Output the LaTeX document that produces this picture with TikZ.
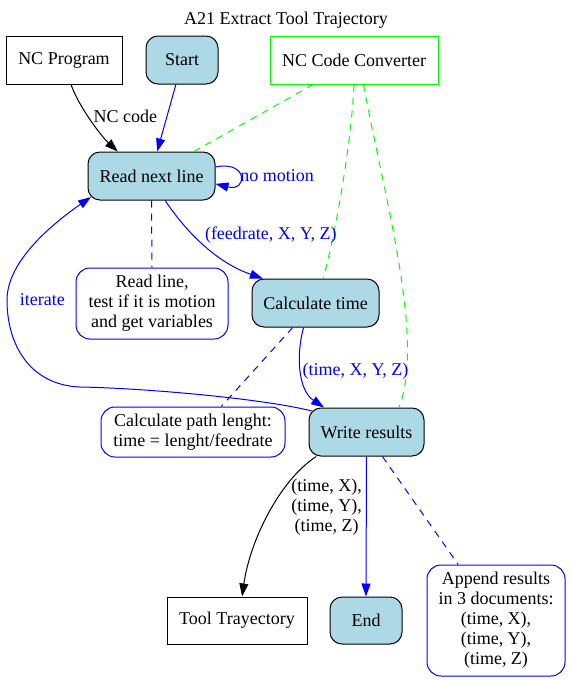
\documentclass[tikz,border=0pt]{standalone}
\usepackage{fontspec}
\setmainfont{Liberation Serif}
\usetikzlibrary{arrows.meta,calc}
\definecolor{lightblue}{HTML}{ADD8E6}
\tikzset{>={Triangle[length=13pt,width=9pt]}}
\tikzset{
  proc/.style={draw,fill=lightblue,rounded corners=12pt,minimum height=48pt,inner sep=0pt},
  datanode/.style={draw,minimum height=48pt,inner sep=0pt},
  note/.style={draw=blue,fill=white,rounded corners=14pt,align=center,inner sep=0pt},
  dashln/.style={dash pattern=on 7pt off 6pt}
}

\begin{document}
\begin{tikzpicture}[x=1pt,y=1pt,line width=1pt,font=\fontsize{18}{20}\selectfont]
\useasboundingbox (0,0) rectangle (570,-681);
\node (title) at (286,-20) {A21 Extract Tool Trajectory};
\node[datanode,minimum width=116pt] (prog) at (64,-60) {NC Program};
\node[proc,minimum width=72pt] (start) at (182,-60) {Start};
\node[datanode,draw=green,minimum width=168pt] (conv) at (354,-60) {NC Code Converter};
\node[proc,minimum width=127pt] (readln) at (151.5,-176) {Read next line};
\node[note,minimum width=152pt,minimum height=71pt] (readnote) at (152,-303.5)
  {Read line,\\test if it is motion\\and get variables};
\node[proc,minimum width=127pt] (calctime) at (315.5,-303) {Calculate time};
\node[note,minimum width=184pt,minimum height=50pt] (pathnote) at (193,-432)
  {Calculate path lenght:\\time = lenght/feedrate};
\node[proc,minimum width=115pt] (write) at (366.5,-432) {Write results};
\node[datanode,minimum width=140pt,minimum height=47pt] (traj) at (237,-620.5) {Tool Trayectory};
\node[proc,minimum width=72pt,minimum height=47pt] (fin) at (366,-620.5) {End};
\node[note,minimum width=138pt,minimum height=111pt] (appnote) at (496,-620.5)
  {Append results\\in 3 documents:\\(time, X),\\(time, Y),\\(time, Z)};
% inputs
\draw[->] (prog.-74) .. controls (78,-105) and (100,-135) .. node[pos=.45,anchor=west,xshift=2pt] {NC code} (readln.144);
\draw[->,blue] (start.-104) -- (readln.77);
% converter links
\draw[green,dashln] (conv.-149) -- (readln.30);
\draw[green,dashln] (conv.-90) .. controls (351,-150) and (333,-245) .. (calctime.73);
\draw[green,dashln] (conv.-69) .. controls (385,-200) and (425,-340) .. (write.37);
% main loop
\draw[->,blue] (readln.8) .. controls (248,-160) and (248,-192) .. node[pos=.5,anchor=west,inner sep=0pt] {no motion} (readln.-7);
\draw[->,blue] (readln.-61) .. controls (185,-230) and (215,-262) .. node[pos=.5,anchor=south west,inner sep=1pt] {(feedrate, X, Y, Z)} (calctime.155);
\draw[->,blue] (calctime.-116) .. controls (296,-355) and (298,-390) .. node[pos=.5,anchor=west,inner sep=1pt] {(time, X, Y, Z)} (write.150);
\coordinate (itA) at (80,-387);
\coordinate (itB) at (7,-300);
\draw[->,blue] ($(write.north west)+(3.5,-3.5)$) .. controls (260,-398) and (140,-388) .. (itA)
  .. controls (30,-385) and (7,-345) .. (itB) node[anchor=west,xshift=9pt] {iterate}
  .. controls (7,-260) and (55,-222) .. ($(readln.south west)+(3.5,3.5)$);
% notes
\draw[blue,dashln] (readln.south) -- (readnote.north);
\draw[blue,dashln] (calctime.-133) -- (pathnote.42);
\draw[blue,dashln] (write.-57) -- (appnote.124);
% outputs
\draw[->] (write.-154) .. controls (280,-480) and (250,-540) .. node[pos=.45,anchor=west,xshift=15pt,align=center] {(time, X),\\(time, Y),\\(time, Z)} (traj.78);
\draw[->,blue] (write.south) -- (fin.north);
\end{tikzpicture}
\end{document}
